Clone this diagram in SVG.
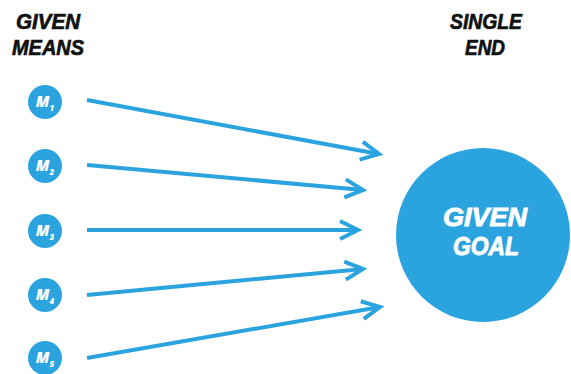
<svg xmlns="http://www.w3.org/2000/svg" width="571" height="374" viewBox="0 0 571 374">
<defs>
<style>
.hd{font-family:"Liberation Sans",Arial,sans-serif;font-weight:bold;font-style:italic;fill:#111;stroke:#111;stroke-width:0.7;font-size:22.5px;text-anchor:middle}
.m{fill:#2ba3de}
.mt{font-family:"Open Sans","Liberation Sans",sans-serif;font-weight:800;font-style:italic;fill:#fff;font-size:15px;text-anchor:middle}
.sub{font-size:8px}
.goal{font-family:"Liberation Sans",Arial,sans-serif;font-weight:bold;font-style:italic;fill:#fff;stroke:#fff;stroke-width:0.9;font-size:26px;text-anchor:middle}
.ar{stroke:#2ba3de;stroke-width:4;fill:none;marker-end:url(#chev)}
</style>
<marker id="chev" markerUnits="userSpaceOnUse" viewBox="-22 -12 26 24" refX="0" refY="0" markerWidth="26" markerHeight="24" orient="auto">
<path d="M-18,-9 L0,0 L-18,9" fill="none" stroke="#2ba3de" stroke-width="4" stroke-linejoin="miter"/>
</marker>
</defs>
<g id="title-means"><text class="hd" x="48" y="29" textLength="64" lengthAdjust="spacingAndGlyphs">GIVEN</text><text class="hd" x="48" y="55" textLength="72" lengthAdjust="spacingAndGlyphs">MEANS</text></g>
<g id="title-end"><text class="hd" x="486" y="29" textLength="72" lengthAdjust="spacingAndGlyphs">SINGLE</text><text class="hd" x="485" y="55" textLength="40" lengthAdjust="spacingAndGlyphs">END</text></g>
<g id="m1"><circle class="m" cx="45" cy="102" r="17"/><text class="mt" x="45" y="107">M<tspan class="sub" dy="4">1</tspan></text></g>
<g id="m2"><circle class="m" cx="45" cy="166" r="17"/><text class="mt" x="45" y="171">M<tspan class="sub" dy="4">2</tspan></text></g>
<g id="m3"><circle class="m" cx="45" cy="231" r="17"/><text class="mt" x="45" y="236">M<tspan class="sub" dy="4">3</tspan></text></g>
<g id="m4"><circle class="m" cx="45" cy="295" r="17"/><text class="mt" x="45" y="300">M<tspan class="sub" dy="4">4</tspan></text></g>
<g id="m5"><circle class="m" cx="45" cy="358" r="17"/><text class="mt" x="45" y="363">M<tspan class="sub" dy="4">5</tspan></text></g>
<g id="goal"><circle class="m" cx="483" cy="235" r="87"/><text class="goal" x="485" y="225.5" textLength="84" lengthAdjust="spacingAndGlyphs">GIVEN</text><text class="goal" x="486" y="255" textLength="66" lengthAdjust="spacingAndGlyphs">GOAL</text></g>
<g id="connectors">
<line class="ar" x1="87" y1="100" x2="379" y2="154"/>
<line class="ar" x1="87" y1="165" x2="363" y2="190"/>
<line class="ar" x1="87" y1="230" x2="358" y2="230"/>
<line class="ar" x1="87" y1="295" x2="363" y2="269"/>
<line class="ar" x1="87" y1="358" x2="380" y2="307"/>
</g>
</svg>
